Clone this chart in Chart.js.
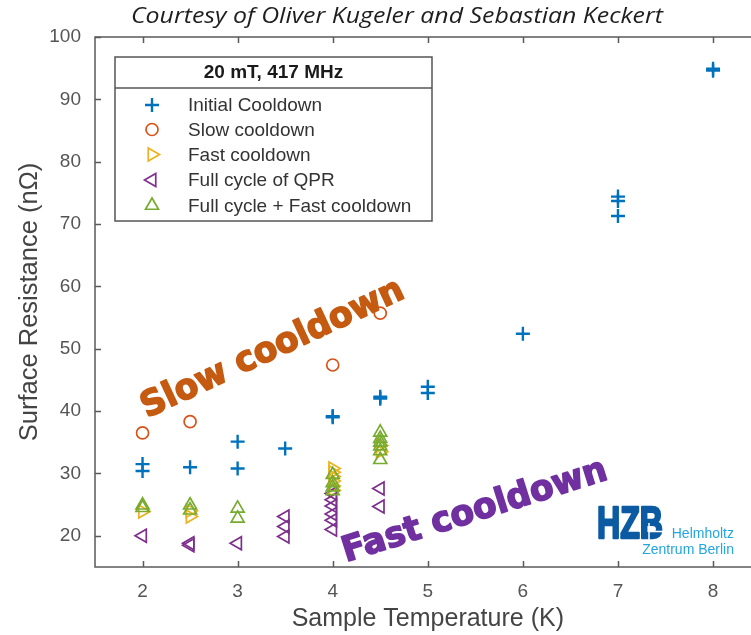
<!DOCTYPE html>
<html>
<head>
<meta charset="utf-8">
<script src="https://cdn.jsdelivr.net/npm/chart.js@4.4.1/dist/chart.umd.min.js"></script>
<style>
  html, body { margin: 0; padding: 0; background: #fff; width: 751px; height: 635px; overflow: hidden; }
  #wrap { position: relative; width: 770px; height: 635px; }
</style>
</head>
<body>
<div id="wrap"><canvas id="c" width="770" height="635"></canvas></div>
<script>
// Tick positions
const xTicks = [2, 3, 4, 5, 6, 7, 8];
const yTicks = [20, 30, 40, 50, 60, 70, 80, 90, 100];

// Initial cooldown
const initialT = [2, 2, 2.5, 3, 3, 3.5, 4, 4, 4.5, 4.5, 5, 5, 6, 7, 7, 7, 8, 8];
const initialR = [31.5, 30.4, 31.0, 35.1, 30.8, 34.0, 39.0, 39.2, 42.0, 42.3, 43.9, 42.9, 52.4, 74.4, 73.7, 71.3, 94.6, 94.9];

// Slow cooldown
const slowT = [2, 2.5, 4, 4.5];
const slowR = [36.5, 38.3, 47.4, 55.7];

// Fast cooldown
const fastT = [2, 2.5, 2.5, 4, 4, 4, 4, 4, 4, 4.5, 4.5];
const fastR = [23.9, 24.0, 23.1, 30.8, 30.2, 29.5, 28.8, 28.0, 27.3, 34.5, 33.5];

// Full cycle of QPR
const qprT = [2, 2.5, 2.5, 3, 3.5, 3.5, 3.5, 4, 4, 4, 4, 4, 4, 4.5, 4.5];
const qprR = [20.0, 18.5, 18.8, 18.8, 23.1, 21.5, 19.9, 26.8, 25.8, 24.8, 23.5, 22.5, 21.0, 27.6, 24.7];

// Full cycle + fast cooldown
const fullFastT = [2, 2, 2.5, 2.5, 3, 3, 4, 4, 4, 4, 4.5, 4.5, 4.5, 4.5, 4.5, 4.5];
const fullFastR = [24.9, 24.5, 24.9, 24.1, 24.4, 22.8, 29.8, 28.5, 27.8, 27.2, 36.6, 35.6, 35.0, 34.4, 33.6, 32.2];

const toPoints = (xs, ys) => xs.map((x, i) => ({ x: x, y: ys[i] }));

const SANS = '"Liberation Sans", Arial, Helvetica, sans-serif';
const NONE = 'rgba(0,0,0,0)';

const datasets = [
  { label: 'Initial Cooldown', data: toPoints(initialT, initialR), pointStyle: 'cross', pointRadius: 7, pointBorderWidth: 2.4, borderColor: '#0072BD', pointRotation: 0, order: 5 },
  { label: 'Slow cooldown', data: toPoints(slowT, slowR), pointStyle: 'circle', pointRadius: 6, pointBorderWidth: 1.7, borderColor: '#D95319', pointRotation: 0, order: 4 },
  { label: 'Fast cooldown', data: toPoints(fastT, fastR), pointStyle: 'triangle', pointRadius: 7.5, pointBorderWidth: 1.7, borderColor: '#EDB120', pointRotation: 90, order: 3 },
  { label: 'Full cycle of QPR', data: toPoints(qprT, qprR), pointStyle: 'triangle', pointRadius: 7.5, pointBorderWidth: 1.7, borderColor: '#7E2F8E', pointRotation: -90, order: 2 },
  { label: 'Full cycle + Fast cooldown', data: toPoints(fullFastT, fullFastR), pointStyle: 'triangle', pointRadius: 7.5, pointBorderWidth: 1.7, borderColor: '#77AC30', pointRotation: 0, order: 1 }
].map(d => Object.assign(d, {
  pointBorderColor: d.borderColor,
  pointBackgroundColor: NONE,
  backgroundColor: NONE,
  showLine: false,
  pointHoverRadius: d.pointRadius
}));

// Draws text rotated about its baseline start, stretched to a given length
function fittedText(ctx, text, font, color, x, y, angleDeg, width, outline) {
  ctx.save();
  ctx.font = font;
  ctx.fillStyle = color;
  ctx.textBaseline = 'alphabetic';
  ctx.textAlign = 'left';
  const w = ctx.measureText(text).width;
  ctx.translate(x, y);
  ctx.rotate(angleDeg * Math.PI / 180);
  ctx.scale(width / w, 1);
  ctx.fillText(text, 0, 0);
  if (outline) {
    ctx.strokeStyle = color;
    ctx.lineWidth = outline;
    ctx.lineJoin = 'round';
    ctx.strokeText(text, 0, 0);
  }
  ctx.restore();
}

function marker(ctx, ds, x, y) {
  ctx.save();
  ctx.strokeStyle = ds.pointBorderColor;
  ctx.fillStyle = NONE;
  ctx.lineWidth = ds.pointBorderWidth;
  const opts = { pointStyle: ds.pointStyle, rotation: ds.pointRotation, radius: ds.pointRadius, borderWidth: ds.pointBorderWidth };
  Chart.helpers.drawPoint(ctx, opts, x, y);
  ctx.restore();
}

// Box, inward ticks, credit line, legend, notes and logo
const decorations = {
  id: 'decorations',
  afterDraw(chart) {
    const ctx = chart.ctx;
    const { left, right, top, bottom } = chart.chartArea;
    const xs = chart.scales.x, ys = chart.scales.y;

    ctx.save();
    ctx.strokeStyle = '#5a5a5a';
    ctx.lineWidth = 1.5;
    ctx.strokeRect(left, top, right - left, bottom - top);
    ctx.beginPath();
    xTicks.forEach(v => {
      const px = Math.round(xs.getPixelForValue(v)) + 0.5;
      ctx.moveTo(px, bottom); ctx.lineTo(px, bottom - 6);
      ctx.moveTo(px, top); ctx.lineTo(px, top + 6);
    });
    yTicks.forEach(v => {
      const py = Math.round(ys.getPixelForValue(v)) + 0.5;
      ctx.moveTo(left, py); ctx.lineTo(left + 6, py);
      ctx.moveTo(right, py); ctx.lineTo(right - 6, py);
    });
    ctx.stroke();
    ctx.restore();

    // credit line
    fittedText(ctx, 'Courtesy of Oliver Kugeler and Sebastian Keckert', 'italic 21px "Open Sans", sans-serif', '#1e1e1e', 131, 23, 0, 532);

    // legend
    const lx = 115, ly = 57, lw = 317, lh = 164;
    ctx.save();
    ctx.fillStyle = '#ffffff';
    ctx.fillRect(lx, ly, lw, lh);
    ctx.strokeStyle = '#555555';
    ctx.lineWidth = 1.5;
    ctx.strokeRect(lx, ly, lw, lh);
    ctx.beginPath();
    ctx.moveTo(lx, ly + 31); ctx.lineTo(lx + lw, ly + 31);
    ctx.stroke();
    ctx.fillStyle = '#1a1a1a';
    ctx.font = 'bold 19px ' + SANS;
    ctx.textAlign = 'center';
    ctx.textBaseline = 'middle';
    ctx.fillText('20 mT, 417 MHz', lx + lw / 2, ly + 16);
    ctx.font = '19px ' + SANS;
    ctx.textAlign = 'left';
    ctx.fillStyle = '#333333';
    const rows = [105, 129.5, 154.5, 180, 205.5];
    chart.data.datasets.forEach((ds, i) => {
      marker(ctx, ds, 152, rows[i]);
      ctx.fillText(ds.label, 188, rows[i] + 1);
    });
    ctx.restore();

    // notes on the plot
    fittedText(ctx, 'Slow cooldown', 'bold 35px "DejaVu Sans", sans-serif', '#C55A11', 147, 418, -25, 286, 1.6);
    fittedText(ctx, 'Fast cooldown', 'bold 35px "DejaVu Sans", sans-serif', '#7030A0', 346, 562, -17.5, 276, 1.6);

    // institute logo
    fittedText(ctx, 'HZB', 'bold 45px "Liberation Sans", Arial, sans-serif', '#0B5AA2', 597, 538, 0, 66, 2.5);
    ctx.save();
    ctx.strokeStyle = '#ffffff';
    ctx.lineWidth = 1.5;
    ctx.beginPath();
    ctx.moveTo(649, 523); ctx.lineTo(649, 540);
    ctx.moveTo(649, 531.5); ctx.lineTo(666, 531.5);
    ctx.stroke();
    ctx.restore();
    ctx.save();
    ctx.fillStyle = '#23A6E0';
    ctx.font = '14px ' + SANS;
    ctx.textAlign = 'right';
    ctx.textBaseline = 'alphabetic';
    ctx.fillText('Helmholtz', 734, 538);
    ctx.fillText('Zentrum Berlin', 734, 554);
    ctx.restore();
  }
};

new Chart(document.getElementById('c').getContext('2d'), {
  type: 'scatter',
  data: { datasets: datasets },
  options: {
    responsive: false,
    animation: false,
    events: [],
    layout: { padding: { top: 37, right: 6, left: 0, bottom: 0 } },
    plugins: { legend: { display: false }, tooltip: { enabled: false }, title: { display: false } },
    scales: {
      x: {
        type: 'linear', min: 1.5, max: 8.5,
        afterBuildTicks: s => { s.ticks = xTicks.map(v => ({ value: v })); },
        afterFit: s => { s.height = 68; },
        grid: { display: false, drawTicks: false },
        border: { display: false },
        ticks: { color: '#555555', padding: 13, font: { family: SANS, size: 19 } },
        title: { display: true, text: 'Sample Temperature (K)', color: '#444444', font: { family: SANS, size: 25 }, padding: { top: 0, bottom: 1 } }
      },
      y: {
        type: 'linear', min: 15, max: 100,
        afterBuildTicks: s => { s.ticks = yTicks.map(v => ({ value: v })); },
        afterFit: s => { s.width = 95; },
        grid: { display: false, drawTicks: false },
        border: { display: false },
        ticks: { color: '#555555', padding: 14, font: { family: SANS, size: 19 } },
        title: { display: true, text: 'Surface Resistance (nΩ)', color: '#444444', font: { family: SANS, size: 25.5 }, padding: { top: 15, bottom: 0 } }
      }
    }
  },
  plugins: [decorations]
});
</script>
</body>
</html>
